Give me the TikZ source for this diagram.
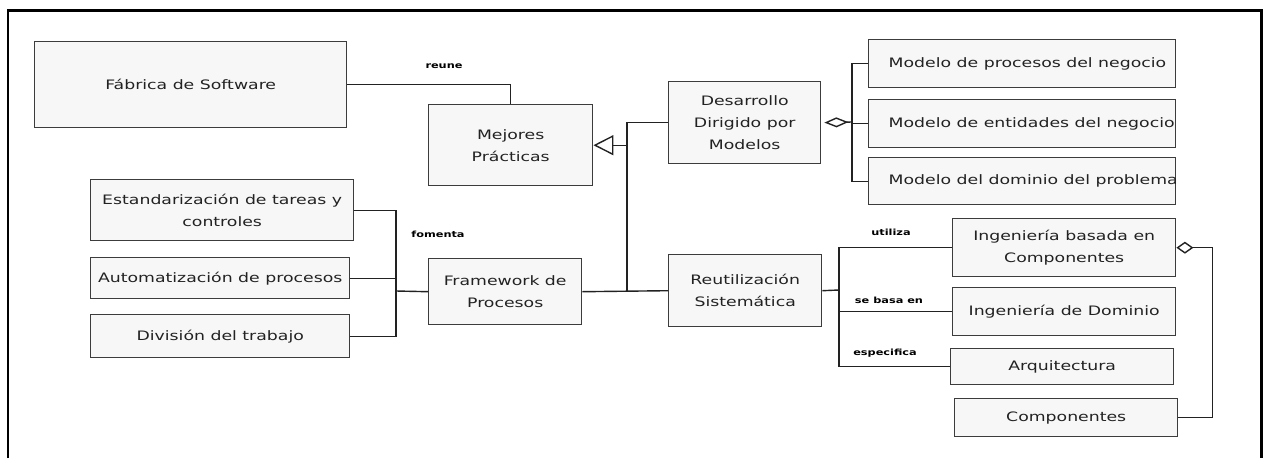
\documentclass[tikz,border=0pt]{standalone}
\usepackage{fontspec}
\setmainfont{DejaVu Sans}[FakeStretch=1.33]
\usetikzlibrary{positioning,arrows.meta}
\definecolor{boxline}{HTML}{3C3C3C}
\definecolor{boxfill}{HTML}{F7F7F7}
\definecolor{inktext}{HTML}{222222}
\tikzset{
        % Class boxes
        classbox/.style={draw=boxline, fill=boxfill, line width=1.4pt, align=center, inner sep=2pt, text=inktext, font=\fontsize{13}{22}\selectfont, anchor=north west},
        % Connectors
        link/.style={draw=inktext, line width=1.4pt},
        % Role names on connectors
        role/.style={font=\bfseries\fontsize{8.5}{10}\selectfont, inner sep=1pt, text=black}
}
\newcommand{\leftin}[1]{\makebox[267pt][l]{#1}}

\begin{document}
\begin{tikzpicture}[x=1pt, y=-1pt]
            \useasboundingbox (0,0) rectangle (1263,458);
            % Frame
            \draw[line width=2.3pt] (8,458) -- (8,10.5) -- (1261.5,10.5) -- (1261.5,458);
            % Left side
            \node[classbox, minimum width=312pt, minimum height=86pt] (fabrica) at (34,41) {Fábrica de Software};
            \node[classbox, minimum width=164pt, minimum height=81pt] (mejores) at (428,104) {Mejores\\Prácticas};
            \node[classbox, minimum width=263pt, minimum height=61pt] (estand) at (90,179) {Estandarización de tareas y\\controles};
            \node[classbox, minimum width=259pt, minimum height=41pt] (autom) at (90,257) {Automatización de procesos};
            \node[classbox, minimum width=259pt, minimum height=43pt] (division) at (90,314) {División del trabajo};
            \node[classbox, minimum width=153pt, minimum height=66pt] (framework) at (428,258) {Framework de\\Procesos};
            % Middle
            \node[classbox, minimum width=152pt, minimum height=82pt] (desarrollo) at (668,81) {Desarrollo\\Dirigido por\\Modelos};
            \node[classbox, minimum width=153pt, minimum height=72pt] (reut) at (668,254) {Reutilización\\Sistemática};
            % Models
            \node[classbox, minimum width=307pt, minimum height=48pt] (mproc) at (868,39) {\leftin{Modelo de procesos del negocio}};
            \node[classbox, minimum width=307pt, minimum height=48pt] (ment) at (868,99) {\leftin{Modelo de entidades del negocio}};
            \node[classbox, minimum width=307pt, minimum height=47pt] (mdom) at (868,157) {\leftin{Modelo del dominio del problema}};
            % Reuse
            \node[classbox, minimum width=223pt, minimum height=58pt] (ingcomp) at (952,218) {Ingeniería basada en\\Componentes};
            \node[classbox, minimum width=223pt, minimum height=48pt] (ingdom) at (952,287) {Ingeniería de Dominio};
            \node[classbox, minimum width=223pt, minimum height=36pt] (arq) at (950,348) {Arquitectura};
            \node[classbox, minimum width=223pt, minimum height=38pt] (comp) at (954,398) {Componentes};

            % Bus points
            \coordinate (busF) at (396,291);
            \coordinate (busM) at (627,291);
            \coordinate (busD) at (852,122);
            \coordinate (busR) at (839,290);

            \draw[link] (fabrica.east) -| (mejores.north);
            \draw[link] (estand.east) -| (busF);
            \draw[link] (division.east) -| (busF);
            \draw[link] (autom.east) -- (autom.east -| busF);
            \draw[link] (busF) -- (framework.west);
            \draw[link] (framework.east) -- (reut.west);
            \draw[link] (desarrollo.west) -| (busM);
            \draw[link, -{Triangle[open, fill=white, length=20pt, width=20pt]}] (busM |- mejores.east) -- (mejores.east);
            \draw[link] (mproc.west) -| (busD) |- (mdom.west);
            \draw[link] (ment.west) -- (ment.west -| busD);
            \draw[link, -{Diamond[open, fill=white, length=24pt, width=10pt]}, shorten >=3pt] (busD) -- (desarrollo.east);
            \draw[link] (reut.east) -- (busR);
            \draw[link] (ingcomp.west) -| (busR);
            \draw[link] (arq.west) -| (busR);
            \draw[link] (ingdom.west) -- (ingdom.west -| busR);
            \draw[link, -{Diamond[open, fill=white, length=17pt, width=12pt]}] (comp.east) -- ++(34,0) |- (ingcomp.east);

            % Role names
            \node[role] (lreune) at (444,66) {reune};
            \node[role] (lfomenta) at (438,234) {fomenta};
            \node[role] (lutiliza) at (891,232) {utiliza};
            \node[role] (lbasa) at (889,300) {se basa en};
            \node[role] (lespec) at (885,353) {especifica};
\end{tikzpicture}
\end{document}
